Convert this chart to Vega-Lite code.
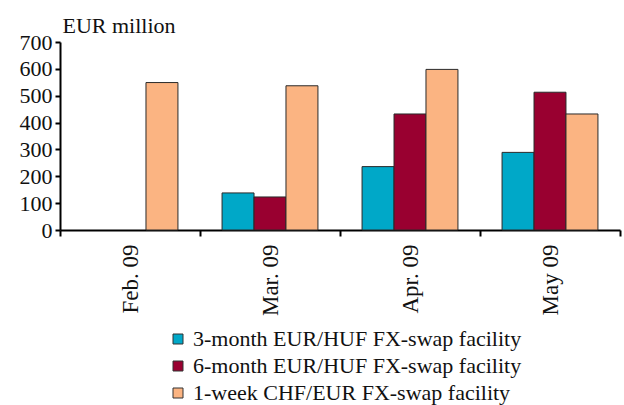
{
  "$schema": "https://vega.github.io/schema/vega-lite/v6.json",
  "width": 560,
  "height": 188,
  "autosize": "none",
  "padding": {"left": 60, "top": 42, "right": 4, "bottom": 175},
  "background": "white",
  "config": {
    "view": {"stroke": null},
    "font": "Liberation Serif",
    "axis": {"labelFont": "Liberation Serif", "titleFont": "Liberation Serif", "labelColor": "#111", "titleColor": "#111"},
    "legend": {"labelFont": "Liberation Serif", "titleFont": "Liberation Serif"}
  },
  "data": {
    "values": [
      {"month": "Feb. 09", "facility": "1-week CHF/EUR FX-swap facility", "value": 549},
      {"month": "Mar. 09", "facility": "3-month EUR/HUF FX-swap facility", "value": 138},
      {"month": "Mar. 09", "facility": "6-month EUR/HUF FX-swap facility", "value": 123},
      {"month": "Mar. 09", "facility": "1-week CHF/EUR FX-swap facility", "value": 537},
      {"month": "Apr. 09", "facility": "3-month EUR/HUF FX-swap facility", "value": 236},
      {"month": "Apr. 09", "facility": "6-month EUR/HUF FX-swap facility", "value": 432},
      {"month": "Apr. 09", "facility": "1-week CHF/EUR FX-swap facility", "value": 598},
      {"month": "May 09", "facility": "3-month EUR/HUF FX-swap facility", "value": 289},
      {"month": "May 09", "facility": "6-month EUR/HUF FX-swap facility", "value": 513},
      {"month": "May 09", "facility": "1-week CHF/EUR FX-swap facility", "value": 432}
    ]
  },
  "mark": {"type": "bar", "stroke": "#2a2a2a", "strokeWidth": 1},
  "encoding": {
    "x": {
      "field": "month",
      "type": "nominal",
      "sort": ["Feb. 09", "Mar. 09", "Apr. 09", "May 09"],
      "scale": {"domain": ["Feb. 09", "Mar. 09", "Apr. 09", "May 09"], "paddingInner": 0, "paddingOuter": 0},
      "axis": {
        "title": null,
        "labelAngle": -90,
        "labelAlign": "right",
        "labelBaseline": "middle",
        "labelFont": "Liberation Serif",
        "labelFontSize": 23,
        "labelPadding": 8,
        "tickBand": "extent",
        "tickSize": 6,
        "tickWidth": 2,
        "tickColor": "#000",
        "domainColor": "#000",
        "domainWidth": 2
      }
    },
    "xOffset": {
      "field": "facility",
      "type": "nominal",
      "sort": ["3-month EUR/HUF FX-swap facility", "6-month EUR/HUF FX-swap facility", "1-week CHF/EUR FX-swap facility"],
      "scale": {
        "domain": ["3-month EUR/HUF FX-swap facility", "6-month EUR/HUF FX-swap facility", "1-week CHF/EUR FX-swap facility"],
        "paddingInner": 0, "paddingOuter": 0.69
      }
    },
    "y": {
      "field": "value",
      "type": "quantitative",
      "scale": {"domain": [0, 700], "nice": false},
      "axis": {
        "values": [0, 100, 200, 300, 400, 500, 600, 700],
        "grid": false,
        "title": "EUR million",
        "titleFont": "Liberation Serif",
        "titleAngle": 0,
        "titleAlign": "left",
        "titleBaseline": "alphabetic",
        "titleX": 2,
        "titleY": -10,
        "titleFontSize": 22,
        "titleFontWeight": "normal",
        "labelFont": "Liberation Serif",
        "labelFontSize": 22,
        "labelPadding": 3,
        "tickSize": 5,
        "tickWidth": 2,
        "tickColor": "#000",
        "domainColor": "#000",
        "domainWidth": 2
      }
    },
    "fill": {
      "field": "facility",
      "type": "nominal",
      "sort": ["3-month EUR/HUF FX-swap facility", "6-month EUR/HUF FX-swap facility", "1-week CHF/EUR FX-swap facility"],
      "scale": {
        "domain": ["3-month EUR/HUF FX-swap facility", "6-month EUR/HUF FX-swap facility", "1-week CHF/EUR FX-swap facility"],
        "range": ["#00A8C8", "#990030", "#FBB482"]
      },
      "legend": {
        "title": null,
        "orient": "none",
        "legendX": 107,
        "legendY": 286,
        "padding": 0,
        "direction": "vertical",
        "symbolType": "square",
        "symbolSize": 100,
        "symbolStrokeColor": "#333",
        "symbolStrokeWidth": 1,
        "labelFont": "Liberation Serif",
        "labelFontSize": 22,
        "labelColor": "#111",
        "labelLimit": 500,
        "labelOffset": 4,
        "rowPadding": 5
      }
    }
  }
}
